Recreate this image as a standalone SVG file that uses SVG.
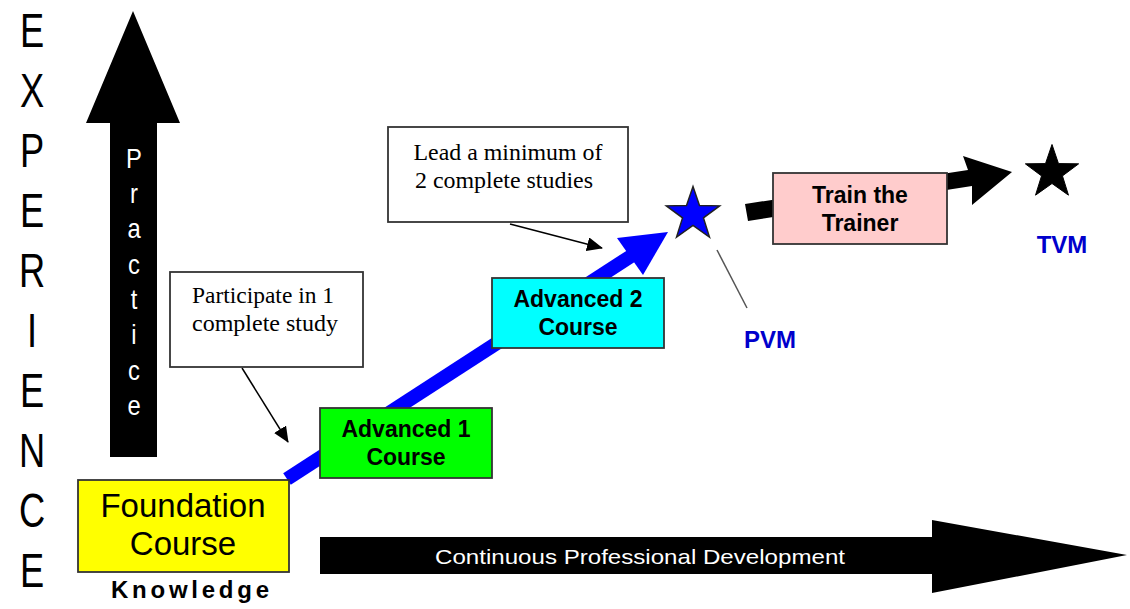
<svg xmlns="http://www.w3.org/2000/svg" width="1130" height="609" viewBox="0 0 1130 609">
<style>
.big{font-family:"Liberation Sans",Arial,sans-serif;font-size:49px;fill:#000;text-anchor:middle}
.prac{font-family:"Liberation Sans",Arial,sans-serif;font-size:28px;fill:#fff;text-anchor:middle}
.box{stroke:#333;stroke-width:1.8}
.bold{font-family:"Liberation Sans",Arial,sans-serif;font-weight:bold;font-size:23px;fill:#000;text-anchor:middle}
.serif{font-family:"Liberation Serif","Times New Roman",serif;font-size:23px;fill:#000;text-anchor:middle}
.lbl{font-family:"Liberation Sans",Arial,sans-serif;font-weight:bold;font-size:24px;fill:#0000CC;text-anchor:middle}
.call{fill:#fff;stroke:#333;stroke-width:1.8}
</style>
<defs>
<path id="star" d="M0,-28 L6.47,-8.9 L26.63,-8.65 L10.46,3.4 L16.46,22.65 L0,11 L-16.46,22.65 L-10.46,3.4 L-26.63,-8.65 L-6.47,-8.9 Z"/>
<marker id="ah" markerUnits="userSpaceOnUse" markerWidth="16" markerHeight="14" viewBox="0 0 16 14" refX="15" refY="7" orient="auto">
<path d="M0,0 L16,7 L0,14 Z" fill="#000"/>
</marker>
</defs>

<g id="experience-axis">
<g transform="translate(32,0) scale(0.74,1)">
<text class="big" x="0" y="47">E</text>
<text class="big" x="0" y="107">X</text>
<text class="big" x="0" y="167">P</text>
<text class="big" x="0" y="227">E</text>
<text class="big" x="0" y="287">R</text>
<text class="big" x="0" y="347">I</text>
<text class="big" x="0" y="407">E</text>
<text class="big" x="0" y="467">N</text>
<text class="big" x="0" y="527">C</text>
<text class="big" x="0" y="587">E</text>
</g>
</g>

<g id="practice-arrow">
<path d="M133,11 L180,123 L157,123 L157,457 L110,457 L110,123 L86,123 Z" fill="#000"/>
<g transform="translate(134,0) scale(0.85,1)">
<text class="prac" x="0" y="168">P</text>
<text class="prac" x="0" y="203">r</text>
<text class="prac" x="0" y="238">a</text>
<text class="prac" x="0" y="274">c</text>
<text class="prac" x="0" y="309">t</text>
<text class="prac" x="0" y="344">i</text>
<text class="prac" x="0" y="380">c</text>
<text class="prac" x="0" y="415">e</text>
</g>
</g>

<g id="cpd-arrow">
<path d="M320,537 L932,537 L932,520 L1127,555 L932,593 L932,574 L320,574 Z" fill="#000"/>
<text x="640" y="564" textLength="410" lengthAdjust="spacingAndGlyphs" style="font-family:'Liberation Sans',Arial,sans-serif;font-size:21px;fill:#fff;text-anchor:middle">Continuous Professional Development</text>
</g>

<g id="connectors">
<line x1="287" y1="479" x2="632" y2="255.5" stroke="#0000FF" stroke-width="14"/>
<path d="M617,238 L668,232 L643,275 Z" fill="#0000FF"/>
<path d="M745,204 L968,170 L963,156 L1012,172 L972,205 L972,186 L748,221 Z" fill="#000"/>
<line x1="242" y1="368" x2="288" y2="442" stroke="#000" stroke-width="1.5" marker-end="url(#ah)"/>
<line x1="510" y1="224" x2="602" y2="248" stroke="#000" stroke-width="1.5" marker-end="url(#ah)"/>
<line x1="717" y1="250" x2="747" y2="308" stroke="#555" stroke-width="1.5"/>
</g>

<g id="foundation">
<rect class="box" x="78" y="480" width="211" height="92" fill="#FFFF00"/>
<text x="183" y="517" style="font-family:'Liberation Sans',Arial,sans-serif;font-size:33px;fill:#000;text-anchor:middle">Foundation</text>
<text x="183" y="555" style="font-family:'Liberation Sans',Arial,sans-serif;font-size:33px;fill:#000;text-anchor:middle">Course</text>
</g>

<g id="knowledge">
<text x="190" y="598" textLength="158" style="font-family:'Liberation Sans',Arial,sans-serif;font-weight:bold;font-size:24px;fill:#000;text-anchor:middle">Knowledge</text>
</g>

<g id="callout-participate">
<rect class="call" x="170" y="272" width="193" height="95"/>
<text class="serif" x="263" y="303" textLength="142" lengthAdjust="spacingAndGlyphs">Participate in 1</text>
<text class="serif" x="265" y="331" textLength="146" lengthAdjust="spacingAndGlyphs">complete study</text>
</g>

<g id="callout-lead">
<rect class="call" x="388" y="127" width="240" height="95"/>
<text class="serif" x="508" y="160" textLength="189" lengthAdjust="spacingAndGlyphs">Lead a minimum of</text>
<text class="serif" x="504" y="188" textLength="178" lengthAdjust="spacingAndGlyphs">2 complete studies</text>
</g>

<g id="advanced1">
<rect class="box" x="320" y="408" width="172" height="70" fill="#00FF00"/>
<text class="bold" x="406" y="437">Advanced 1</text>
<text class="bold" x="406" y="465">Course</text>
</g>

<g id="advanced2">
<rect class="box" x="492" y="278" width="172" height="70" fill="#00FFFF"/>
<text class="bold" x="578" y="307">Advanced 2</text>
<text class="bold" x="578" y="335">Course</text>
</g>

<g id="pvm">
<use href="#star" transform="translate(693,214.5)" fill="#0000FF" stroke="#222" stroke-width="1.5"/>
<text class="lbl" x="770" y="348">PVM</text>
</g>

<g id="train-the-trainer">
<rect class="box" x="773" y="173" width="174" height="71" fill="#FFCCCC"/>
<text class="bold" x="860" y="203">Train the</text>
<text class="bold" x="860" y="231">Trainer</text>
</g>

<g id="tvm">
<use href="#star" transform="translate(1052,172.5)" fill="#000" stroke="#000" stroke-width="1"/>
<text class="lbl" x="1062" y="253">TVM</text>
</g>
</svg>
